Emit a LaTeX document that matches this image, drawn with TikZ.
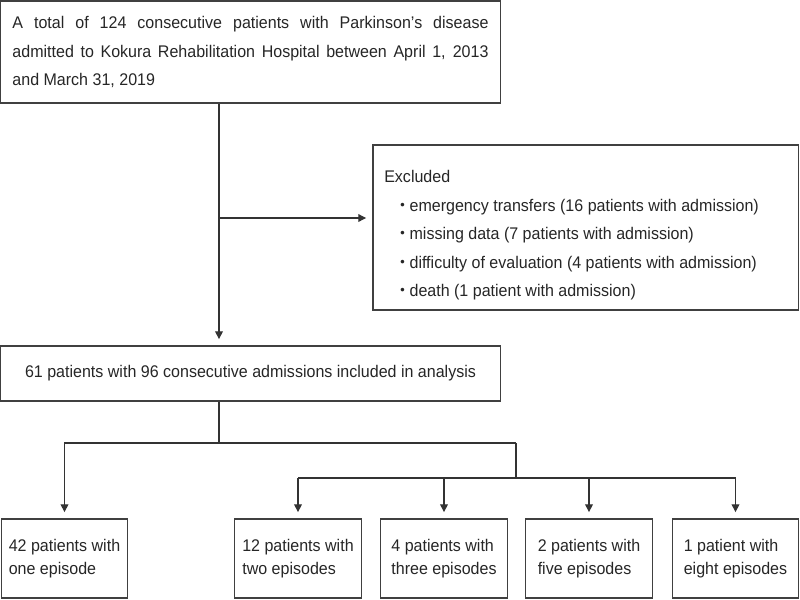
\documentclass[tikz,border=0pt]{standalone}
\usepackage{fontspec}
\setmainfont[FakeStretch=0.95]{Liberation Sans}
\newfontfamily\jpfont{Noto Sans CJK JP}
\usetikzlibrary{arrows.meta}

\begin{document}
\begin{tikzpicture}[x=0.025cm, y=-0.025cm,
    box/.style={draw=black!75, line width=0.8pt, text=black!85, inner sep=0pt, font=\fontsize{12}{20}\selectfont},
    episode/.style={box, minimum width=3.16cm, minimum height=1.975cm, align=left, font=\fontsize{12}{16}\selectfont},
    line/.style={draw=black!80, line width=0.8pt},
    link/.style={line, -{Triangle[length=5.5pt,width=5.5pt]}, shorten >=4.5pt}]
    \useasboundingbox (0,0) rectangle (800,599);

    \node[box, minimum width=12.475cm, minimum height=2.55cm, text width=11.9cm, align=justify] (total) at (250.5,52)
        {A total of 124 consecutive patients with Parkinson's disease\linebreak admitted to Kokura Rehabilitation Hospital between April 1, 2013\linebreak and March 31, 2019};
    \node[box, minimum width=10.625cm, minimum height=4.125cm] (excl) at (585.5,227.5) {};
    \node[anchor=north west, inner sep=0pt, align=left, text=black!85, font=\fontsize{12}{20.3}\selectfont] (exctext) at (384,170)
        {Excluded\\
         \hspace*{7pt}{\jpfont ・}\hspace{-1pt}emergency transfers (16 patients with admission)\\
         \hspace*{7pt}{\jpfont ・}\hspace{-1pt}missing data (7 patients with admission)\\
         \hspace*{7pt}{\jpfont ・}\hspace{-1pt}difficulty of evaluation (4 patients with admission)\\
         \hspace*{7pt}{\jpfont ・}\hspace{-1pt}death (1 patient with admission)};
    \node[box, minimum width=12.475cm, minimum height=1.375cm] (incl) at (250.5,373.5)
        {61 patients with 96 consecutive admissions included in analysis};

    \node[episode] (one) at (64.5,558.5) {42 patients with\\one episode};
    \node[episode] (two) at (298,558.5) {12 patients with\\two episodes};
    \node[episode] (three) at (444,558.5) {4 patients with\\three episodes};
    \node[episode] (four) at (589,558.5) {2 patients with\\five episodes};
    \node[episode] (five) at (735.5,558.5) {1 patient with\\eight episodes};

    \coordinate (split) at (219,218);
    \coordinate (fork) at (219,443);
    \coordinate (fork2) at (516,443);
    \coordinate (fork3) at (516,478);

    \draw[link] (total.south -| split) -- (incl.north -| split);
    \draw[link] (split) -- (split -| excl.west);
    \draw[line] (incl.south -| fork) -- (fork);
    \draw[link] (fork2) -- (fork2 -| one.north) -- (one.north);
    \draw[line] (fork2) -- (fork3);
    \draw[line] (fork3 -| two.north) -- (fork3 -| five.north);
    \foreach \n in {two,three,four,five}
        \draw[link] (fork3 -| \n.north) -- (\n.north);
\end{tikzpicture}
\end{document}
